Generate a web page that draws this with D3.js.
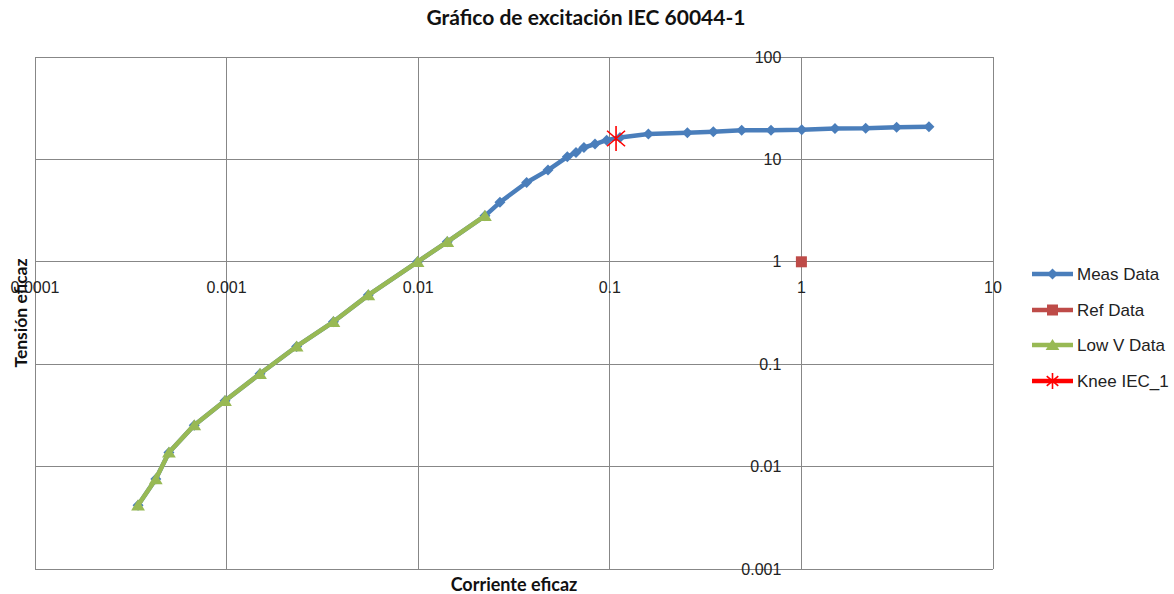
<!DOCTYPE html>
<html><head><meta charset="utf-8">
<script src="https://cdn.jsdelivr.net/npm/d3@7"></script>
<style>body{margin:0;background:#fff}svg{display:block}</style>
</head><body><svg id="c" width="1174" height="594"></svg>
<script>
const measCurrent = [0.000345,0.000427,0.000500,0.000678,0.000981,0.001494,0.00232,0.00361,0.00549,0.00992,0.01418,0.0223,0.0267,0.0368,0.0476,0.0600,0.0666,0.0733,0.0837,0.0963,0.113,0.159,0.254,0.347,0.488,0.694,1.004,1.497,2.166,3.14,4.63];
const measVoltage = [0.00419,0.00755,0.01374,0.0254,0.0439,0.0806,0.149,0.2596,0.473,1.0,1.568,2.81,3.81,5.95,7.86,10.6,11.68,13.07,14.1,15.4,16.4,17.66,18.2,18.6,19.24,19.3,19.45,20.04,20.1,20.6,20.8];
const refCurrent = [1];
const refVoltage = [1];
const lowCurrent = [0.000345,0.000427,0.000500,0.000678,0.000981,0.001494,0.00232,0.00361,0.00549,0.00992,0.01418,0.0223];
const lowVoltage = [0.00419,0.00755,0.01374,0.0254,0.0439,0.0806,0.149,0.2596,0.473,1.0,1.568,2.81];
const kneeCurrent = [0.1078];
const kneeVoltage = [16.0];
const xTicks = [0.0001,0.001,0.01,0.1,1,10];
const yTicks = [0.001,0.01,0.1,1,10,100];
const xTickLabels = ["0.0001","0.001","0.01","0.1","1","10"];
const yTickLabels = ["0.001","0.01","0.1","1","10","100"];
const seriesNames = ["Meas Data","Ref Data","Low V Data","Knee IEC_1"];
const colors = {meas:"#4A7EBB", ref:"#BE4B48", low:"#98B954", knee:"#FF0000"};

const svg = d3.select("#c");
const L=35,R=993,T=57,B=569;
const x = d3.scaleLog().domain([1e-4,10]).range([L,R]);
const y = d3.scaleLog().domain([1e-3,100]).range([B,T]);
const grid="#878787";
const g = svg.append("g");
g.selectAll(".vg").data(xTicks).join("line").attr("x1",d=>x(d)).attr("x2",d=>x(d)).attr("y1",T).attr("y2",B).attr("stroke",grid).attr("stroke-width",1).attr("shape-rendering","crispEdges");
g.selectAll(".hg").data(yTicks).join("line").attr("y1",d=>y(d)).attr("y2",d=>y(d)).attr("x1",L).attr("x2",R).attr("stroke",grid).attr("stroke-width",1).attr("shape-rendering","crispEdges");
g.append("line").attr("x1",x(1)).attr("x2",x(1)).attr("y1",T).attr("y2",B).attr("stroke",grid).attr("shape-rendering","crispEdges");
g.append("line").attr("y1",y(1)).attr("y2",y(1)).attr("x1",L).attr("x2",R).attr("stroke",grid).attr("shape-rendering","crispEdges");

const tickFont = "Liberation Sans, Arial, sans-serif";
svg.selectAll(".yt").data(yTicks).join("text").attr("x",x(1)-20).attr("y",d=>y(d)).attr("dy","0.35em").attr("text-anchor","end").attr("font-family",tickFont).attr("font-size",16).attr("fill","#222").text((d,i)=>yTickLabels[i]);
svg.selectAll(".xt").data(xTicks).join("text").attr("x",d=>x(d)).attr("y",y(1)+26).attr("dy","0.35em").attr("text-anchor","middle").attr("font-family",tickFont).attr("font-size",16).attr("fill","#222").text((d,i)=>xTickLabels[i]);

const mk = (xs,ys)=>xs.map((v,i)=>[v,ys[i]]);
const meas = mk(measCurrent,measVoltage), ref=mk(refCurrent,refVoltage), low=mk(lowCurrent,lowVoltage), knee=mk(kneeCurrent,kneeVoltage);
const line = d3.line().x(d=>x(d[0])).y(d=>y(d[1]));
svg.append("path").attr("d",line(meas)).attr("fill","none").attr("stroke",colors.meas).attr("stroke-width",4.5).attr("stroke-linejoin","round");
function diamondPath(s){return `M0,${-s}L${s},0L0,${s}L${-s},0Z`;}
svg.selectAll(".md").data(meas).join("path").attr("transform",d=>`translate(${x(d[0])},${y(d[1])})`).attr("d",diamondPath(5.5)).attr("fill",colors.meas);
svg.selectAll(".rs").data(ref).join("rect").attr("x",d=>x(d[0])-5.5).attr("y",d=>y(d[1])-5.5).attr("width",11).attr("height",11).attr("fill",colors.ref);
svg.append("path").attr("d",line(low)).attr("fill","none").attr("stroke",colors.low).attr("stroke-width",4.5).attr("stroke-linejoin","round");
function triPath(s){return `M0,${-s}L${s*1.15},${s*0.85}L${-s*1.15},${s*0.85}Z`;}
svg.selectAll(".lt").data(low).join("path").attr("transform",d=>`translate(${x(d[0])},${y(d[1])})`).attr("d",triPath(6)).attr("fill",colors.low);
function starPath(s){const a=s*0.72, b=s*0.62;return `M0,${-s}L0,${s}M${-a},${-b}L${a},${b}M${-a},${b}L${a},${-b}`;}
svg.selectAll(".kn").data(knee).join("path").attr("transform",d=>`translate(${x(d[0])},${y(d[1])})`).attr("d",starPath(12.5)).attr("fill","none").attr("stroke",colors.knee).attr("stroke-width",1.6);

const titleFont = "Lato, 'Open Sans', sans-serif";
svg.append("text").attr("x",586).attr("y",18).attr("dy","0.35em").attr("text-anchor","middle").attr("font-family",titleFont).attr("font-weight","bold").attr("font-size",21).attr("fill","#111").text("Gráfico de excitación IEC 60044-1");
svg.append("text").attr("x",514).attr("y",585).attr("dy","0.35em").attr("text-anchor","middle").attr("font-family",titleFont).attr("font-weight","bold").attr("font-size",18).attr("fill","#111").text("Corriente eficaz");
svg.append("text").attr("transform","translate(21,313) rotate(-90)").attr("dy","0.35em").attr("text-anchor","middle").attr("font-family",titleFont).attr("font-weight","bold").attr("font-size",17.5).attr("fill","#111").text("Tensión eficaz");

const legY = [274,310,345,381];
const leg = svg.append("g");
const keys = ["meas","ref","low","knee"];
keys.forEach((k,i)=>{
  const yy = legY[i];
  leg.append("line").attr("x1",1032).attr("x2",1073).attr("y1",yy).attr("y2",yy).attr("stroke",colors[k]).attr("stroke-width",4.5);
  if(k==="meas") leg.append("path").attr("transform",`translate(1052.5,${yy})`).attr("d",diamondPath(5.5)).attr("fill",colors.meas);
  if(k==="ref") leg.append("rect").attr("x",1047).attr("y",yy-5.5).attr("width",11).attr("height",11).attr("fill",colors.ref);
  if(k==="low") leg.append("path").attr("transform",`translate(1052.5,${yy})`).attr("d",triPath(6)).attr("fill",colors.low);
  if(k==="knee") leg.append("path").attr("transform",`translate(1052.5,${yy})`).attr("d",starPath(8)).attr("fill","none").attr("stroke",colors.knee).attr("stroke-width",1.6);
  leg.append("text").attr("x",1077).attr("y",yy).attr("dy","0.35em").attr("font-family",tickFont).attr("font-size",17).attr("fill","#222").text(seriesNames[i]);
});
</script></body></html>
